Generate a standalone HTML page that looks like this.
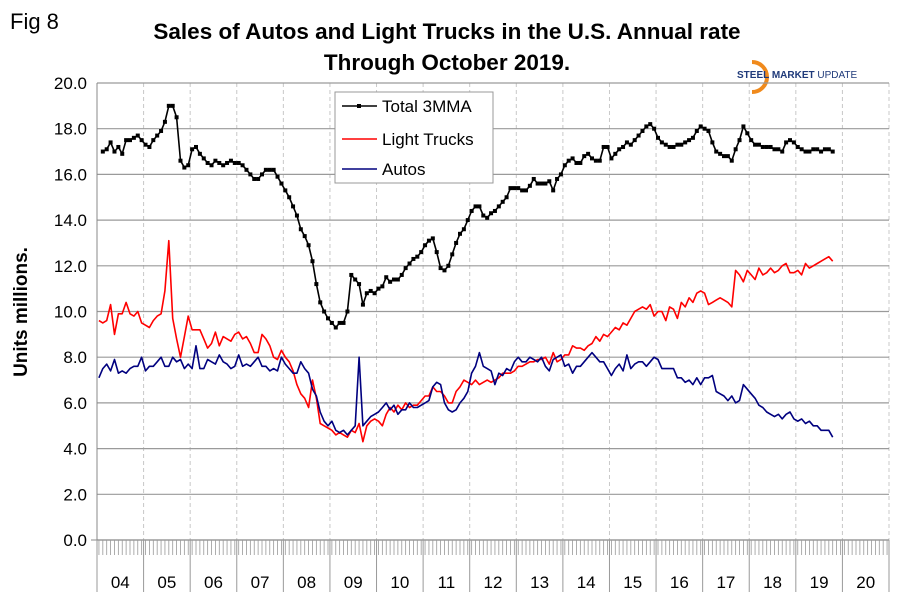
<!DOCTYPE html>
<html><head><meta charset="utf-8"><style>
body{margin:0;background:#fff;}
svg text{font-family:"Liberation Sans",Arial,sans-serif;}
</style></head><body>
<svg id="chart" width="899" height="602" viewBox="0 0 899 602" xmlns="http://www.w3.org/2000/svg">
<rect width="899" height="602" fill="#fff"/>
<text x="10" y="29" font-size="22">Fig 8</text>
<text x="447" y="39" font-size="22.5" font-weight="bold" text-anchor="middle">Sales of Autos and Light Trucks in the U.S. Annual rate</text>
<text x="447" y="70" font-size="22.5" font-weight="bold" text-anchor="middle">Through October 2019.</text>
<g>
<path d="M752 62 A15 15 0 1 1 752 92" fill="none" stroke="#f08a1c" stroke-width="4"/>
<text x="737" y="78" font-size="10" font-weight="bold" fill="#1f3a7a">STEEL MARKET <tspan font-weight="normal">UPDATE</tspan></text>
</g>
<g id="grid"></g>
<g id="axes"></g>
<g id="series"></g>
<text transform="translate(27,312) rotate(-90)" font-size="19" font-weight="bold" text-anchor="middle">Units millions.</text>
<g>
<rect x="335" y="92" width="158" height="91" fill="#fff" stroke="#999"/>
<g><line x1="342" y1="106" x2="377" y2="106" stroke="#000" stroke-width="1.5"/><rect x="357" y="104" width="4" height="4" fill="#000"/><text x="382" y="112" font-size="17">Total 3MMA</text></g>
<g><line x1="342" y1="139" x2="377" y2="139" stroke="#f00" stroke-width="1.5"/><text x="382" y="145" font-size="17">Light Trucks</text></g>
<g><line x1="342" y1="169" x2="377" y2="169" stroke="#00007f" stroke-width="1.5"/><text x="382" y="175" font-size="17">Autos</text></g>
</g>
</svg>
<script>
const yearLabels = ["04","05","06","07","08","09","10","11","12","13","14","15","16","17","18","19","20"];
const yTicks = [0,2,4,6,8,10,12,14,16,18,20];
const totalStart = 1;
const total3mma = [
17.0,17.1,17.4,17.0,17.2,16.9,17.5,17.5,17.6,17.7,17.5,
17.3,17.2,17.5,17.7,17.9,18.3,19.0,19.0,18.5,16.6,16.3,16.4,
17.1,17.2,16.9,16.7,16.5,16.4,16.6,16.5,16.4,16.5,16.6,16.5,
16.5,16.4,16.2,16.0,15.8,15.8,16.0,16.2,16.2,16.2,15.9,15.6,
15.3,15.0,14.6,14.2,13.6,13.3,12.9,12.2,11.2,10.4,10.0,9.7,
9.5,9.3,9.5,9.5,10.0,11.6,11.4,11.2,10.3,10.8,10.9,10.8,
11.0,11.1,11.5,11.3,11.4,11.4,11.6,11.9,12.1,12.3,12.4,12.6,
12.9,13.1,13.2,12.6,11.9,11.8,12.0,12.5,13.0,13.4,13.6,14.0,
14.4,14.6,14.6,14.2,14.1,14.3,14.4,14.6,14.8,15.0,15.4,15.4,
15.4,15.3,15.3,15.5,15.8,15.6,15.6,15.6,15.7,15.3,15.8,16.0,
16.4,16.6,16.7,16.5,16.5,16.8,16.9,16.7,16.6,16.6,17.2,17.2,
16.7,16.9,17.1,17.2,17.4,17.3,17.5,17.7,17.9,18.1,18.2,18.0,
17.6,17.4,17.3,17.2,17.2,17.3,17.3,17.4,17.5,17.6,17.9,18.1,
18.0,17.9,17.4,17.0,16.9,16.8,16.8,16.6,17.1,17.5,18.1,17.8,
17.5,17.3,17.3,17.2,17.2,17.2,17.1,17.1,17.0,17.4,17.5,17.4,
17.2,17.1,17.0,17.0,17.1,17.1,17.0,17.1,17.1,17.0];
const lightTrucks = [
9.6,9.5,9.6,10.3,9.0,9.9,9.9,10.4,9.9,9.8,10.0,9.5,
9.4,9.3,9.6,9.8,9.9,10.9,13.1,9.7,8.8,8.0,8.9,9.8,
9.2,9.2,9.2,8.8,8.4,8.6,9.1,8.5,8.9,8.8,8.7,9.0,
9.1,8.8,8.9,8.6,8.2,8.2,9.0,8.8,8.5,8.0,7.9,8.3,
8.0,7.8,7.4,6.8,6.4,6.2,5.8,7.0,6.2,5.1,5.0,4.9,
4.8,4.6,4.7,4.6,4.5,4.8,4.7,5.1,4.3,5.0,5.2,5.3,
5.2,5.0,5.5,5.8,5.6,5.9,5.7,6.0,5.8,5.9,5.9,6.1,
6.3,6.3,6.7,6.5,6.5,6.3,6.0,6.0,6.5,6.7,7.0,6.9,
6.8,7.0,6.8,6.9,7.0,6.9,7.0,7.1,7.3,7.3,7.3,7.4,
7.6,7.6,7.7,7.8,7.8,7.9,7.9,8.0,7.7,8.2,7.8,7.9,
8.1,8.1,8.5,8.4,8.4,8.3,8.5,8.6,8.9,8.7,9.0,8.9,
9.1,9.3,9.2,9.5,9.4,9.7,10.0,10.1,10.2,10.1,10.3,9.8,
10.0,10.0,9.6,10.2,10.1,9.7,10.4,10.2,10.6,10.4,10.8,10.9,
10.8,10.3,10.4,10.5,10.6,10.5,10.4,10.2,11.8,11.6,11.3,11.8,
11.6,11.4,11.9,11.6,11.7,11.9,11.7,11.8,12.0,12.1,11.7,11.7,
11.8,11.6,12.1,11.9,12.0,12.1,12.2,12.3,12.4,12.2];
const autos = [
7.1,7.5,7.7,7.4,7.9,7.3,7.4,7.3,7.5,7.6,7.6,8.0,
7.4,7.6,7.6,7.8,8.0,7.6,7.6,8.0,7.8,7.9,7.5,7.7,
7.5,8.5,7.5,7.5,7.9,7.8,7.7,8.1,7.8,7.7,7.5,7.6,
8.1,7.6,7.7,7.6,7.8,8.0,7.6,7.6,7.4,7.5,7.4,8.0,
7.7,7.5,7.3,7.3,7.8,7.5,7.3,6.6,6.3,5.6,5.2,5.0,
5.2,4.8,4.7,4.8,4.6,4.8,5.0,8.0,5.0,5.2,5.4,5.5,
5.6,5.8,6.0,5.7,5.9,5.5,5.7,5.7,6.0,5.8,5.8,5.9,
6.0,6.1,6.7,6.9,6.8,6.0,5.7,5.6,5.7,6.0,6.2,6.5,
7.3,7.6,8.2,7.6,7.5,7.4,6.8,7.3,7.2,7.5,7.4,7.8,
8.0,7.8,7.8,8.0,7.9,7.8,8.0,7.6,7.4,7.9,8.0,8.1,
7.6,7.7,7.3,7.6,7.6,7.8,8.0,8.2,8.0,7.8,7.8,7.5,
7.2,7.5,7.7,7.4,8.1,7.5,7.7,7.8,7.8,7.6,7.8,8.0,
7.9,7.5,7.5,7.5,7.5,7.1,7.1,6.9,7.0,6.8,7.1,6.8,
7.1,7.1,7.2,6.5,6.4,6.3,6.1,6.3,6.0,6.1,6.8,6.6,
6.4,6.2,5.9,5.8,5.6,5.5,5.4,5.5,5.3,5.5,5.6,5.3,
5.2,5.3,5.1,5.2,5.0,5.0,4.8,4.8,4.8,4.5];

const NS='http://www.w3.org/2000/svg';
const L=97,R=889,T=83,B=540;
const yearW=(R-L)/yearLabels.length, monthW=yearW/12;
function xScale(i){return L+(i+0.5)*monthW;}
function yScale(v){return B-(v/20)*(B-T);}
function mk(tag,attrs,parent){const e=document.createElementNS(NS,tag);for(const k in attrs)e.setAttribute(k,attrs[k]);parent.appendChild(e);return e;}
const grid=document.getElementById('grid'),axes=document.getElementById('axes'),series=document.getElementById('series');
for(let i=1;i<=yearLabels.length;i++){const x=L+i*yearW;
 const l=mk('line',{x1:x,y1:T,x2:x,y2:B,stroke:'#c8c8c8','stroke-dasharray':'4,3'},grid);
 
 }
yTicks.forEach(v=>{const y=yScale(v);
 const l=mk('line',{x1:L,y1:y,x2:R,y2:y,stroke:v===0?'#888':'#9a9a9a','stroke-width':1.2},grid);
 
 
 const t=mk('text',{x:87,y:y+6,'font-size':17,'text-anchor':'end'},axes);t.textContent=v.toFixed(1);
 
 });
mk('line',{x1:L,y1:T,x2:L,y2:B,stroke:'#888'},axes);
mk('line',{x1:91,y1:B,x2:L,y2:B,stroke:'#888'},axes);
for(let m=0;m<yearLabels.length*12;m++){const x=L+(m+0.5)*monthW;
 mk('line',{x1:x,y1:B,x2:x,y2:555,stroke:'#999','stroke-width':0.8},axes);}
for(let i=0;i<=yearLabels.length;i++){const x=L+i*yearW;
 mk('line',{x1:x,y1:B,x2:x,y2:592,stroke:'#999'},axes);}
yearLabels.forEach((lab,i)=>{const t=mk('text',{x:L+(i+0.5)*yearW,y:588,'font-size':17,'text-anchor':'middle'},axes);t.textContent=lab;
 
 });
function line(arr,start,color,name){const pts=arr.map((v,i)=>xScale(i+start).toFixed(1)+','+yScale(v).toFixed(1)).join(' ');
 const p=mk('polyline',{points:pts,fill:'none',stroke:color,'stroke-width':1.6,'stroke-linejoin':'round'},series);
 
 return p;}
line(lightTrucks,0,'#ff0000','light-trucks-line');
line(autos,0,'#00007f','autos-line');
line(total3mma,totalStart,'#000','total-3mma-line');
total3mma.forEach((v,i)=>{const r=mk('rect',{x:xScale(i+totalStart)-2,y:yScale(v)-2,width:4,height:4,fill:'#000'},series);
 
 });
</script>
</body></html>
